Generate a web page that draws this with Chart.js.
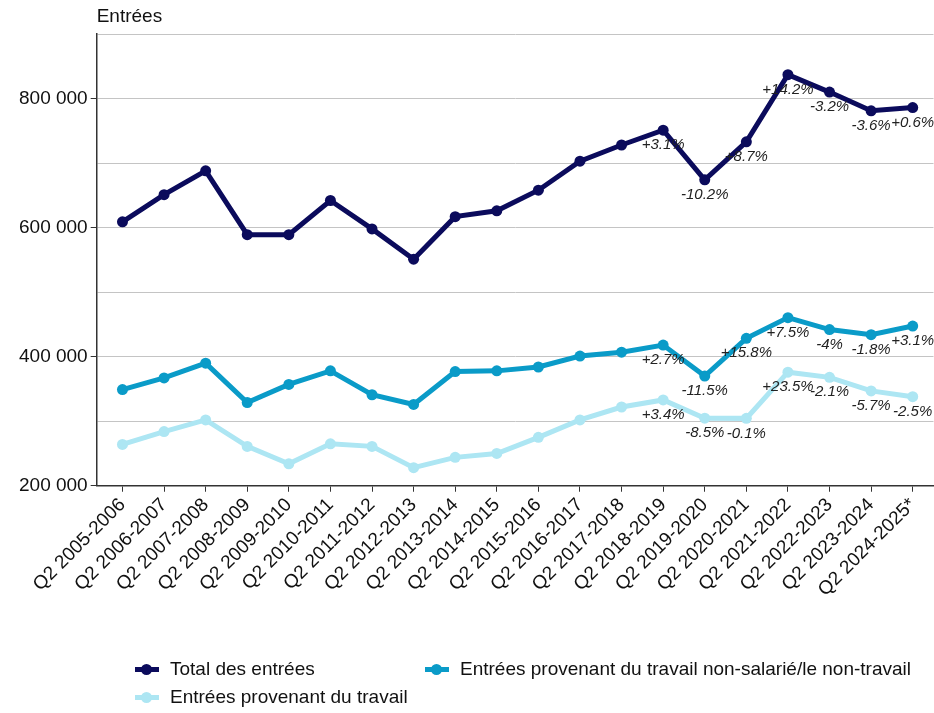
<!DOCTYPE html>
<html>
<head>
<meta charset="utf-8">
<script src="https://cdn.jsdelivr.net/npm/chart.js@4.4.1/dist/chart.umd.min.js"></script>
<style>
body { margin: 0; overflow: hidden; background: #fff; font-family: "Liberation Sans", Arial, sans-serif; }
#wrap { position: absolute; left: 0; top: 0; width: 939px; height: 603px; }
#legend { position: absolute; left: 0; top: 0; width: 934px; height: 713px; }
.item { position: absolute; display: flex; align-items: center; font-size: 19px; color: #111; white-space: nowrap; }
.mark { position: relative; width: 24px; height: 5px; margin-right: 11px; }
.mark span { position: absolute; left: 6px; top: -3px; width: 11px; height: 11px; border-radius: 50%; }
</style>
</head>
<body>
<div id="wrap"><canvas id="chart"></canvas></div>
<div id="legend"></div>
<script>
//chart values
var categories = ["Q2 2005-2006", "Q2 2006-2007", "Q2 2007-2008", "Q2 2008-2009", "Q2 2009-2010",
  "Q2 2010-2011", "Q2 2011-2012", "Q2 2012-2013", "Q2 2013-2014", "Q2 2014-2015", "Q2 2015-2016",
  "Q2 2016-2017", "Q2 2017-2018", "Q2 2018-2019", "Q2 2019-2020", "Q2 2020-2021", "Q2 2021-2022",
  "Q2 2022-2023", "Q2 2023-2024", "Q2 2024-2025*"];

var totalEntrees = [609000, 651000, 688000, 589000, 589000, 642000, 598000, 551000, 617000, 626000,
  658000, 703000, 728000, 751000, 674000, 733000, 837000, 810000, 781000, 786000];
var nonSalarie = [349000, 367000, 390000, 329000, 357000, 378000, 341000, 326000, 377000, 378000,
  384000, 401000, 407000, 418000, 370000, 428500, 460500, 442000, 434000, 447500];
var travail = [264000, 284000, 302000, 261000, 234000, 265000, 261000, 228000, 244000, 250000,
  275000, 302000, 322000, 333000, 304700, 304400, 376000, 368000, 347000, 338000];

var totalPct = [null, null, null, null, null, null, null, null, null, null, null, null, null,
  "+3.1%", "-10.2%", "+8.7%", "+14.2%", "-3.2%", "-3.6%", "+0.6%"];
var nonSalariePct = [null, null, null, null, null, null, null, null, null, null, null, null, null,
  "+2.7%", "-11.5%", "+15.8%", "+7.5%", "-4%", "-1.8%", "+3.1%"];
var travailPct = [null, null, null, null, null, null, null, null, null, null, null, null, null,
  "+3.4%", "-8.5%", "-0.1%", "+23.5%", "-2.1%", "-5.7%", "-2.5%"];

var yTicks = [200000, 400000, 600000, 800000];

var series = [
  { label: "Total des entrées", values: totalEntrees, pct: totalPct, color: "#0b0b5c" },
  { label: "Entrées provenant du travail non-salarié/le non-travail", values: nonSalarie, pct: nonSalariePct, color: "#0a9bc8" },
  { label: "Entrées provenant du travail", values: travail, pct: travailPct, color: "#ade6f3" }
];

function formatNumber(v) {
  return String(v / 1000) + " 000";
}

//percent labels under the points
var pctLabels = {
  id: "pctLabels",
  afterDatasetsDraw: function(chart) {
    var ctx = chart.ctx;
    ctx.save();
    ctx.font = 'italic 15px "Liberation Sans"';
    ctx.fillStyle = "#222";
    ctx.textAlign = "center";
    ctx.textBaseline = "middle";
    chart.data.datasets.forEach(function(ds, di) {
      chart.getDatasetMeta(di).data.forEach(function(pt, i) {
        if (ds.pct[i]) {
          ctx.fillText(ds.pct[i], pt.x, pt.y + 15);
        }
      });
    });
    ctx.restore();
  }
};

//"Entrées" over the y axis
var axisTitle = {
  id: "axisTitle",
  afterDraw: function(chart) {
    var ctx = chart.ctx;
    ctx.save();
    ctx.font = '19px "Liberation Sans"';
    ctx.fillStyle = "#111";
    ctx.textAlign = "left";
    ctx.textBaseline = "middle";
    ctx.fillText("Entrées", chart.chartArea.left, 17);
    ctx.restore();
  }
};

var datasets = series.slice().reverse().map(function(s) {
  return {
    label: s.label,
    data: s.values.map(function(v, i) { return { x: i, y: v }; }),
    pct: s.pct,
    borderColor: s.color,
    backgroundColor: s.color,
    borderWidth: 5,
    pointRadius: 5.5,
    pointBorderWidth: 0,
    pointBackgroundColor: s.color,
    tension: 0
  };
});

new Chart(document.getElementById("chart"), {
  type: "line",
  data: { datasets: datasets },
  plugins: [pctLabels, axisTitle],
  options: {
    responsive: true,
    maintainAspectRatio: false,
    animation: false,
    layout: { padding: { top: 34, left: 16, right: 0, bottom: 0 } },
    plugins: { legend: { display: false }, tooltip: { enabled: false } },
    scales: {
      x: {
        type: "linear", min: -0.62, max: 19.5,
        grid: { drawOnChartArea: false, drawTicks: true, tickLength: 6, tickColor: "#333" },
        border: { color: "#333", width: 1.5 },
        ticks: {
          stepSize: 1, includeBounds: false, autoSkip: false, minRotation: 45, maxRotation: 45,
          padding: 2, color: "#111", font: { family: "Liberation Sans", size: 19 },
          callback: function(v) { return categories[v]; }
        }
      },
      y: {
        min: 200000, max: 900000,
        grid: {
          color: "#c4c4c4", tickLength: 6,
          tickColor: function(c) { return c.tick && yTicks.indexOf(c.tick.value) >= 0 ? "#333" : "rgba(0,0,0,0)"; }
        },
        border: { color: "#333", width: 1.5 },
        ticks: {
          stepSize: 100000, padding: 3, color: "#111", font: { family: "Liberation Sans", size: 19 },
          callback: function(v) { return yTicks.indexOf(v) >= 0 ? formatNumber(v) : ""; }
        }
      }
    }
  }
});

//legend
var legendPos = [[135, 670], [425, 670], [135, 698]];
var legendBox = document.getElementById("legend");
series.forEach(function(s, i) {
  var item = document.createElement("div");
  item.className = "item";
  item.style.left = legendPos[i][0] + "px";
  item.style.top = (legendPos[i][1] - 12) + "px";
  item.innerHTML = "<div class='mark' style='background:" + s.color + "'><span style='background:" + s.color + "'></span></div>" + s.label;
  legendBox.appendChild(item);
});
</script>
</body>
</html>
